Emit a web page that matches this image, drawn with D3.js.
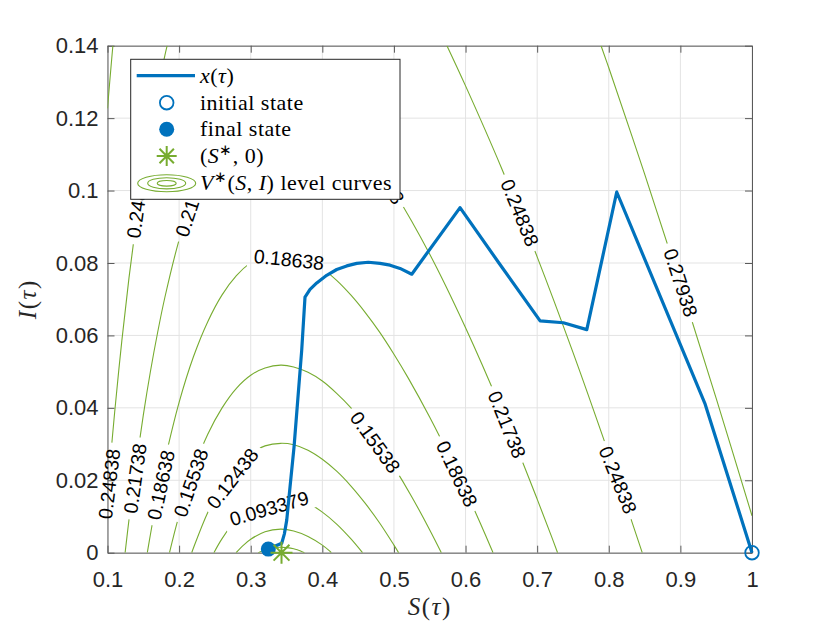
<!DOCTYPE html>
<html>
<head>
<meta charset="utf-8">
<script src="https://cdn.jsdelivr.net/npm/d3@7"></script>
<style>
body { margin: 0; background: #fff; }
svg { display: block; }
</style>
</head>
<body>
<svg id="chart"></svg>
<script>
// ticks
const xTicks = [0.1, 0.2, 0.3, 0.4, 0.5, 0.6, 0.7, 0.8, 0.9, 1.0];
const yTicks = [0, 0.02, 0.04, 0.06, 0.08, 0.1, 0.12, 0.14];

// trajectory x(tau), [S, I] from initial to final state
const traj = [
    [1.0, 0], [0.9346, 0.0410], [0.8111, 0.0996], [0.7693, 0.0616], [0.7366, 0.0635],
    [0.7041, 0.0640], [0.6466, 0.0800], [0.5923, 0.0953], [0.5249, 0.0769], [0.5085, 0.0785],
    [0.4946, 0.0794], [0.4806, 0.0799], [0.4642, 0.0802], [0.4480, 0.0799], [0.4341, 0.0792],
    [0.4201, 0.0782], [0.4061, 0.0766], [0.3922, 0.0745], [0.3828, 0.0727], [0.3758, 0.0706],
    [0.3712, 0.0559], [0.3679, 0.0477], [0.3605, 0.0292], [0.3549, 0.0182], [0.3503, 0.0090],
    [0.3470, 0.0052], [0.3433, 0.0026], [0.3246, 0.0010]
];
const initialState = [1.0, 0];
const finalState = [0.3246, 0.0010];
const sStar = [0.343, 0];

// V*(S,I) level curves, points [S, I]
const lc031 = [[0.3106, 0], [0.32, 0.0008], [0.33, 0.0013], [0.342, 0.0015], [0.35, 0.0014], [0.36, 0.0011], [0.365, 0.0008], [0.375, 0]];
const lc062 = [[0.2796, 0], [0.29, 0.0021], [0.30, 0.0037], [0.32, 0.0058], [0.342, 0.0065], [0.36, 0.0060], [0.38, 0.0045], [0.40, 0.0021], [0.41, 0.0005], [0.4125, 0]];
const lc093 = [[0.2486, 0], [0.26, 0.0039], [0.28, 0.0092], [0.30, 0.0128], [0.32, 0.0149], [0.342, 0.0156], [0.36, 0.0152], [0.38, 0.0137], [0.40, 0.0112], [0.42, 0.0079], [0.44, 0.0038], [0.4561, 0]];
const lc124 = [[0.2176, 0], [0.22, 0.0013], [0.24, 0.0111], [0.26, 0.0185], [0.28, 0.0238], [0.30, 0.0274], [0.32, 0.0295], [0.342, 0.0302], [0.36, 0.0298], [0.38, 0.0283], [0.40, 0.0258], [0.42, 0.0225], [0.44, 0.0184], [0.46, 0.0136], [0.48, 0.0082], [0.50, 0.0021], [0.5066, 0]];
const lc155 = [[0.1866, 0], [0.19, 0.0028], [0.20, 0.0103], [0.22, 0.0229], [0.24, 0.0327], [0.26, 0.0400], [0.28, 0.0454], [0.30, 0.0490], [0.32, 0.0510], [0.342, 0.0518], [0.36, 0.0513], [0.38, 0.0498], [0.40, 0.0474], [0.42, 0.0440], [0.44, 0.0400], [0.46, 0.0352], [0.48, 0.0297], [0.50, 0.0237], [0.525, 0.0154], [0.55, 0.0063], [0.5662, 0]];
const lc186 = [[0.1556, 0], [0.16, 0.0051], [0.17, 0.0159], [0.18, 0.0254], [0.20, 0.0415], [0.22, 0.0541], [0.24, 0.0638], [0.26, 0.0712], [0.28, 0.0765], [0.30, 0.0801], [0.32, 0.0822], [0.342, 0.0829], [0.36, 0.0825], [0.38, 0.0810], [0.40, 0.0785], [0.42, 0.0752], [0.44, 0.0711], [0.46, 0.0663], [0.48, 0.0609], [0.50, 0.0548], [0.52, 0.0482], [0.55, 0.0374], [0.58, 0.0256], [0.60, 0.0172], [0.62, 0.0084], [0.6384, 0]];
const lc217 = [[0.1246, 0], [0.13, 0.0091], [0.14, 0.0244], [0.15, 0.0380], [0.16, 0.0501], [0.17, 0.0608], [0.18, 0.0704], [0.20, 0.0864], [0.22, 0.0990], [0.24, 0.1088], [0.26, 0.1161], [0.28, 0.1215], [0.30, 0.1251], [0.32, 0.1271], [0.342, 0.1279], [0.36, 0.1274], [0.38, 0.1259], [0.40, 0.1235], [0.44, 0.1161], [0.47, 0.1086], [0.50, 0.0998], [0.55, 0.0824], [0.60, 0.0621], [0.65, 0.0395], [0.70, 0.0148], [0.72, 0.0045], [0.7285, 0]];
const lc248a = [[0.1, 0.0162], [0.105, 0.0278], [0.11, 0.0388], [0.12, 0.0585], [0.13, 0.0759], [0.14, 0.0912], [0.15, 0.1048], [0.16, 0.1169], [0.17, 0.1276], [0.18, 0.1372], [0.1833, 0.14]];
const lc248b = [[0.574, 0.14], [0.60, 0.1289], [0.65, 0.1063], [0.70, 0.0817], [0.75, 0.0553], [0.80, 0.0273], [0.83, 0.0099], [0.8467, 0]];
const lc279a = [[0.1, 0.1227], [0.105, 0.1344], [0.1075, 0.14]];
const lc279b = [[0.7892, 0.14], [0.80, 0.1339], [0.85, 0.1046], [0.90, 0.0742], [0.95, 0.0426], [1.0, 0.0102]];
const levelCurves = [lc031, lc062, lc093, lc124, lc155, lc186, lc217, lc248a, lc248b, lc279a, lc279b];

// inline contour labels: text, centre [S, I], angle
const labelText = ['0.24838', '0.21738', '0.18638', '0.15538', '0.12438', '0.093379', '0.18638', '0.15538',
    '0.18638', '0.21738', '0.24838', '0.24838', '0.27938', '0.24838', '0.21738', '0.21738'];
const labelPos = [[0.1021, 0.0190], [0.1384, 0.0205], [0.1743, 0.0187], [0.2162, 0.0193], [0.2743, 0.0205],
    [0.3256, 0.0123], [0.3535, 0.0810], [0.4740, 0.0305], [0.5881, 0.0218], [0.6580, 0.0354],
    [0.8130, 0.0201], [0.6760, 0.0939], [0.9006, 0.0746], [0.1426, 0.0965], [0.2180, 0.0967], [0.4820, 0.1050]];
const labelAngle = [-83, -82, -78, -71, -52, -16, 6, 54, 64.5, 68, 68, 67.7, 72, -82, -72, 58];

const W = 830, H = 623;
const margin = { top: 45.7, right: 78, bottom: 70.3, left: 107.5 };
const blue = '#0072BD', green = '#77AC30', axisCol = '#262626';
const sans = "'Liberation Sans', Arial, Helvetica, sans-serif";
const serif = "'Liberation Serif', 'Times New Roman', serif";

const svg = d3.select('#chart').attr('width', W).attr('height', H);

const x = d3.scaleLinear().domain([0.1, 1]).range([margin.left, W - margin.right]);
const y = d3.scaleLinear().domain([0, 0.14]).range([H - margin.bottom, margin.top]);

// grid
const grid = svg.append('g');
grid.selectAll('.gx').data(xTicks).enter().append('line')
    .attr('x1', d => x(d)).attr('x2', d => x(d))
    .attr('y1', y(0)).attr('y2', y(0.14))
    .attr('stroke', '#e3e3e3').attr('stroke-width', 1);
grid.selectAll('.gy').data(yTicks).enter().append('line')
    .attr('y1', d => y(d)).attr('y2', d => y(d))
    .attr('x1', x(0.1)).attr('x2', x(1))
    .attr('stroke', '#e3e3e3').attr('stroke-width', 1);

// axes (box with inward ticks)
const fmt = d3.format('~g');
function styleAxis(g) {
    g.attr('font-family', sans).attr('font-size', 22);
    g.selectAll('path, line').attr('stroke', '#5a5a5a').attr('stroke-width', 1);
    g.selectAll('text').attr('fill', axisCol);
}
svg.append('g').attr('transform', `translate(0,${y(0)})`)
    .call(d3.axisBottom(x).tickValues(xTicks).tickFormat(fmt).tickSizeInner(-7).tickSizeOuter(0).tickPadding(19))
    .call(styleAxis);
svg.append('g').attr('transform', `translate(${x(0.1)},0)`)
    .call(d3.axisLeft(y).tickValues(yTicks).tickFormat(fmt).tickSizeInner(-7).tickSizeOuter(0).tickPadding(9))
    .call(styleAxis);
svg.append('g').attr('transform', `translate(0,${y(0.14)})`)
    .call(d3.axisTop(x).tickValues(xTicks).tickFormat('').tickSizeInner(-7).tickSizeOuter(0))
    .call(styleAxis);
svg.append('g').attr('transform', `translate(${x(1)},0)`)
    .call(d3.axisRight(y).tickValues(yTicks).tickFormat('').tickSizeInner(-7).tickSizeOuter(0))
    .call(styleAxis);

// clip + label-gap mask
const defs = svg.append('defs');
defs.append('clipPath').attr('id', 'plotclip').append('rect')
    .attr('x', x(0.1)).attr('y', y(0.14))
    .attr('width', x(1) - x(0.1)).attr('height', y(0) - y(0.14));
const mask = defs.append('mask').attr('id', 'gapmask').attr('maskUnits', 'userSpaceOnUse')
    .attr('x', 0).attr('y', 0).attr('width', W).attr('height', H);
mask.append('rect').attr('width', W).attr('height', H).attr('fill', '#fff');

// level curves
const curveLine = d3.line().x(d => x(d[0])).y(d => y(d[1])).curve(d3.curveCatmullRom.alpha(0.5));
svg.append('g').attr('clip-path', 'url(#plotclip)')
    .append('g').attr('mask', 'url(#gapmask)')
    .selectAll('path').data(levelCurves).enter().append('path')
    .attr('d', curveLine)
    .attr('fill', 'none').attr('stroke', green).attr('stroke-width', 1.1);

// labels
const lab = svg.append('g');
labelText.forEach((t, i) => {
    const tr = `translate(${x(labelPos[i][0])},${y(labelPos[i][1])}) rotate(${labelAngle[i]})`;
    const txt = lab.append('text').attr('transform', tr)
        .attr('text-anchor', 'middle').attr('dy', '0.36em')
        .attr('font-family', sans).attr('font-size', 19.5).attr('fill', '#000')
        .text(t);
    const w = txt.node().getComputedTextLength();
    mask.append('rect').attr('transform', tr)
        .attr('x', -w / 2 - 6).attr('y', -12).attr('width', w + 12).attr('height', 24)
        .attr('fill', '#000');
});

// trajectory
const trajLine = d3.line().x(d => x(d[0])).y(d => y(d[1]));
svg.append('path').datum(traj)
    .attr('d', trajLine)
    .attr('fill', 'none').attr('stroke', blue).attr('stroke-width', 3.2)
    .attr('stroke-linejoin', 'round');

// markers
svg.append('circle').attr('cx', x(initialState[0])).attr('cy', y(initialState[1])).attr('r', 6.8)
    .attr('fill', 'none').attr('stroke', blue).attr('stroke-width', 1.8);
svg.append('circle').attr('cx', x(finalState[0])).attr('cy', y(finalState[1])).attr('r', 7.5)
    .attr('fill', blue);
function star(g, cx, cy, r) {
    const d = r * 0.72;
    g.append('path')
        .attr('d', `M${cx - r},${cy}H${cx + r}M${cx},${cy - r}V${cy + r}M${cx - d},${cy - d}L${cx + d},${cy + d}M${cx - d},${cy + d}L${cx + d},${cy - d}`)
        .attr('stroke', green).attr('stroke-width', 2).attr('fill', 'none');
}
star(svg, x(sStar[0]), y(sStar[1]), 11);

// axis labels
const xl = svg.append('text').attr('x', (x(0.1) + x(1)) / 2).attr('y', 615)
    .attr('text-anchor', 'middle').attr('font-family', serif).attr('font-size', 25)
    .attr('letter-spacing', 1.5).attr('fill', axisCol);
xl.append('tspan').attr('font-style', 'italic').text('S');
xl.append('tspan').text('(');
xl.append('tspan').attr('font-style', 'italic').text('τ');
xl.append('tspan').text(')');
const yl = svg.append('text').attr('transform', `translate(36,${(y(0) + y(0.14)) / 2}) rotate(-90)`)
    .attr('text-anchor', 'middle').attr('font-family', serif).attr('font-size', 25)
    .attr('letter-spacing', 1.5).attr('fill', axisCol);
yl.append('tspan').attr('font-style', 'italic').text('I');
yl.append('tspan').text('(');
yl.append('tspan').attr('font-style', 'italic').text('τ');
yl.append('tspan').text(')');

// legend
const leg = svg.append('g');
leg.append('rect').attr('x', 130.7).attr('y', 59.3).attr('width', 269.3).attr('height', 140)
    .attr('fill', '#fff').attr('stroke', axisCol).attr('stroke-width', 1);
const rowY = [75.7, 102.7, 129.3, 156, 183.3];
const iconX = 166.7, textX = 200;
leg.append('line').attr('x1', 136.7).attr('x2', 195).attr('y1', rowY[0]).attr('y2', rowY[0])
    .attr('stroke', blue).attr('stroke-width', 3.2);
leg.append('circle').attr('cx', iconX).attr('cy', rowY[1]).attr('r', 6.8)
    .attr('fill', 'none').attr('stroke', blue).attr('stroke-width', 1.8);
leg.append('circle').attr('cx', iconX).attr('cy', rowY[2]).attr('r', 7.5).attr('fill', blue);
star(leg, iconX, rowY[3], 10);
[[29, 8.5], [19, 5.6], [9.5, 2.8]].forEach(e => {
    leg.append('ellipse').attr('cx', iconX).attr('cy', rowY[4]).attr('rx', e[0]).attr('ry', e[1])
        .attr('fill', 'none').attr('stroke', green).attr('stroke-width', 1.1);
});

function legText(i) {
    return leg.append('text').attr('x', textX).attr('y', rowY[i] + 6.8)
        .attr('font-family', serif).attr('font-size', 22).attr('letter-spacing', 0.5).attr('fill', '#000');
}
let t = legText(0);
t.append('tspan').attr('font-style', 'italic').text('x');
t.append('tspan').text('(');
t.append('tspan').attr('font-style', 'italic').text('τ');
t.append('tspan').text(')');
legText(1).text('initial state');
legText(2).text('final state');
t = legText(3);
t.append('tspan').text('(');
t.append('tspan').attr('font-style', 'italic').text('S');
t.append('tspan').attr('dy', -8).attr('font-size', 15).text('∗');
t.append('tspan').attr('dy', 8).text(', 0)');
t = legText(4);
t.append('tspan').attr('font-style', 'italic').text('V');
t.append('tspan').attr('dy', -8).attr('font-size', 15).text('∗');
t.append('tspan').attr('dy', 8).text('(');
t.append('tspan').attr('font-style', 'italic').text('S');
t.append('tspan').text(', ');
t.append('tspan').attr('font-style', 'italic').text('I');
t.append('tspan').text(') level curves');
</script>
</body>
</html>
